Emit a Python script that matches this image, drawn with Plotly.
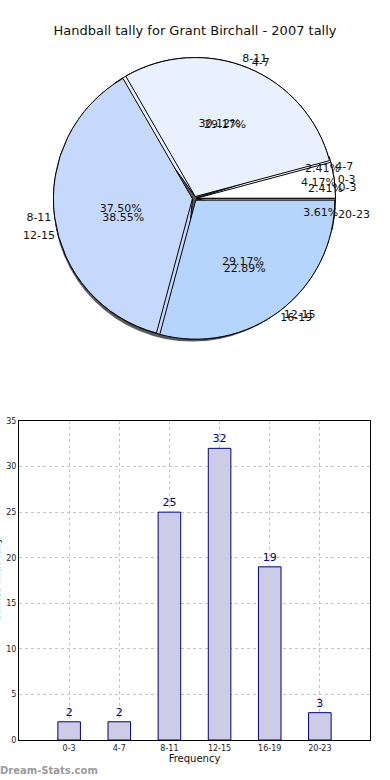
import plotly.graph_objects as go

# ---------------- data ----------------
title_text = "Handball tally for Grant Birchall - 2007 tally"

# first pie (same data as the bar chart)
pie1_labels = ["0-3", "4-7", "8-11", "12-15", "16-19", "20-23"]
pie1_values = [2, 2, 25, 32, 19, 3]

# second pie (overlaid)
pie2_labels = ["0-3", "4-7", "8-11", "12-15"]
pie2_values = [1, 7, 9, 7]

bar_categories = ["0-3", "4-7", "8-11", "12-15", "16-19", "20-23"]
bar_values = [2, 2, 25, 32, 19, 3]

x_title = "Frequency"
y_title = "Games with Tally"
watermark = "Dream-Stats.com"

# ---------------- styling ----------------
W, H = 390, 780
FONT = "DejaVu Sans"
pie1_colors = ["#ffffff", "#ffffff", "#eaf1fe", "#c5d9fd", "#b5d5fd", "#d6effd"]
pie2_colors = ["#ffffff", "#eaf1fe", "#c5d9fd", "#b5d5fd"]
PULL = 0.015


def dom(cx, cy, r, pull=0.0):
    rr = r * (1 + pull)
    return dict(x=[(cx - rr) / W, (cx + rr) / W],
                y=[1 - (cy + rr) / H, 1 - (cy - rr) / H])


def start_rotation(vals):
    # plotly places the first counterclockwise slice clockwise of `rotation`;
    # shift so the first slice starts at 3 o'clock and runs counterclockwise
    return 90 - 360.0 * vals[0] / sum(vals)


CX, CY, R = 194.5, 198.5, 139

fig = go.Figure()

common = dict(sort=False, direction="counterclockwise",
              hoverinfo="skip", showlegend=False)

# shadow
fig.add_trace(go.Pie(values=[1], labels=["s"], rotation=0,
                     marker=dict(colors=["rgba(60,60,60,0.85)"], line=dict(width=0)),
                     domain=dom(CX - 2, CY + 2, R, PULL), pull=[PULL], textinfo="none", **common))

# pie 1 (underneath)
fig.add_trace(go.Pie(values=pie1_values, labels=pie1_labels, rotation=start_rotation(pie1_values),
                     marker=dict(colors=pie1_colors, line=dict(color="#000000", width=1)),
                     domain=dom(CX, CY, R, PULL), pull=[PULL] * len(pie1_values),
                     textinfo="none", **common))
# pie 2 (on top)
fig.add_trace(go.Pie(values=pie2_values, labels=pie2_labels, rotation=start_rotation(pie2_values),
                     marker=dict(colors=pie2_colors, line=dict(color="#000000", width=1)),
                     domain=dom(CX, CY, R, PULL), pull=[PULL] * len(pie2_values),
                     textinfo="none", **common))

# percentage texts (transparent overlays)
for vals, labs in [(pie1_values, pie1_labels), (pie2_values, pie2_labels)]:
    fig.add_trace(go.Pie(values=vals, labels=labs, rotation=start_rotation(vals),
                         marker=dict(colors=["rgba(0,0,0,0)"] * len(vals), line=dict(width=0)),
                         domain=dom(CX, CY, R, PULL), pull=[PULL] * len(vals),
                         texttemplate="%{percent:.2%}", textposition="inside",
                         insidetextorientation="horizontal",
                         textfont=dict(family=FONT, size=11, color="#111111"), **common))
# outside category labels
for vals, labs in [(pie1_values, pie1_labels), (pie2_values, pie2_labels)]:
    fig.add_trace(go.Pie(values=vals, labels=labs, rotation=start_rotation(vals),
                         marker=dict(colors=["rgba(0,0,0,0)"] * len(vals), line=dict(width=0)),
                         domain=dom(CX, CY, R, PULL), pull=[PULL] * len(vals),
                         texttemplate="%{label}", textposition="outside",
                         outsidetextfont=dict(family=FONT, size=11, color="#111111"), **common))

# bar chart
fig.add_trace(go.Bar(x=bar_categories, y=bar_values, width=0.45,
                     marker=dict(color="#ccccE6", line=dict(color="#000080", width=1)),
                     text=bar_values, textposition="outside", cliponaxis=False,
                     textfont=dict(family=FONT, size=10, color="#000080"),
                     hoverinfo="skip", showlegend=False))

axis_common = dict(showgrid=True, griddash="dot", gridcolor="#c4c4c4", gridwidth=1,
                   showline=True, mirror=True, linecolor="#000000", linewidth=1,
                   zeroline=False, tickfont=dict(family=FONT, size=8, color="#222222"),
                   ticks="", fixedrange=True, automargin=False)

fig.update_layout(
    width=W, height=H,
    margin=dict(l=0, r=0, t=0, b=0),
    paper_bgcolor="white", plot_bgcolor="white",
    font=dict(family=FONT, color="#111111"),
    title=dict(text=title_text, x=0.5, xanchor="center", y=1 - 30 / H, yanchor="middle",
               font=dict(family=FONT, size=13, color="#111111")),
    uniformtext=dict(minsize=11, mode="show"),
    xaxis=dict(domain=[19 / W, 370 / W], range=[-1, 6], type="category",
               title=dict(text=x_title, font=dict(family=FONT, size=10), standoff=2),
               anchor="y", **axis_common),
    yaxis=dict(domain=[1 - 740 / H, 1 - 421 / H], range=[0, 35], dtick=5,
               anchor="x", **axis_common),
    annotations=[
        dict(text=y_title, x=-4 / W, y=1 - 580 / H, xref="paper", yref="paper",
             textangle=-90, showarrow=False, xanchor="center", yanchor="middle",
             font=dict(family=FONT, size=10, color="#111111")),
        dict(text="<b>" + watermark + "</b>", x=-2 / W, y=1 - 770 / H, xref="paper", yref="paper",
             showarrow=False, xanchor="left", yanchor="middle",
             font=dict(family=FONT, size=10, color="#9a9a9a")),
    ],
)

fig.write_html("out.html", config={"displayModeBar": False},
               post_script="document.body.style.margin='0';document.body.style.overflow='hidden';")
